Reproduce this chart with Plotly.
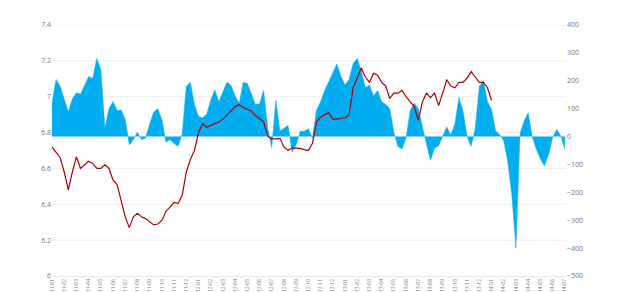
import plotly.graph_objects as go

# price series (left axis)
price = [6.72, 6.69, 6.66, 6.58, 6.48, 6.58, 6.665, 6.60, 6.62, 6.64,
         6.628, 6.60, 6.60, 6.62, 6.60, 6.535, 6.51, 6.42, 6.33, 6.27,
         6.33, 6.35, 6.33, 6.32, 6.30, 6.285, 6.29, 6.31, 6.36, 6.385,
         6.41, 6.405, 6.45, 6.58, 6.65, 6.70, 6.80, 6.85, 6.83, 6.84,
         6.85, 6.86, 6.875, 6.90, 6.92, 6.945, 6.955, 6.94, 6.93, 6.92,
         6.895, 6.875, 6.86, 6.78, 6.765, 6.765, 6.768, 6.72, 6.70, 6.715,
         6.715, 6.712, 6.705, 6.70, 6.74, 6.86, 6.885, 6.90, 6.91, 6.875,
         6.875, 6.88, 6.88, 6.90, 7.05, 7.11, 7.16, 7.11, 7.08, 7.13,
         7.12, 7.08, 7.06, 6.99, 7.02, 7.02, 7.035, 7.0, 6.97, 6.945,
         6.87, 6.97, 7.02, 6.995, 7.02, 6.95, 7.02, 7.095, 7.06, 7.05,
         7.08, 7.08, 7.105, 7.14, 7.11, 7.08, 7.08, 7.05, 6.98]

# spread series (right axis)
spread = [120, 205, 180, 130, 88, 135, 157, 152, 182, 215,
          208, 280, 240, 30, 100, 126, 93, 95, 60, -30,
          -11, 15, -11, -5, 45, 88, 100, 60, -20, -11,
          -25, -35, 10, 180, 195, 115, 72, 67, 80, 130,
          168, 125, 160, 195, 183, 145, 120, 195, 190, 155,
          115, 118, 165, 30, -40, 130, 20, 30, 40, -55,
          -30, 19, 19, 28, -5, 95, 125, 165, 195, 228,
          260, 215, 185, 205, 262, 280, 235, 175, 185, 145,
          165, 125, 115, 100, 15, -35, -45, -5, 92, 120,
          100, 35, -30, -85, -42, -33, 0, 35, 5, 45,
          140, 90, 0, -35, 30, 180, 200, 125, 97, 20,
          7, -15, -90, -210, -400, 10, 55, 85, 0, -45,
          -80, -105, -65, -5, 25, 3, -45]

left_ticks = [6.2, 6.4, 6.6, 6.8, 7.0, 7.2, 7.4]

tick_labels = []
for y in range(11, 15):
    for m in range(1, 13):
        tick_labels.append(f"{y}-{m:02d}")
tick_labels = tick_labels[:43]

x_spread = list(range(len(spread)))
x_price = list(range(len(price)))
tick_pos = [3 * k for k in range(len(tick_labels))]

fig = go.Figure()
# spread on the base axis (drawn on the right side) so the price line sits on top
fig.add_trace(go.Scatter(
    x=x_spread, y=spread, yaxis="y", mode="lines",
    line=dict(color="#00AEEF", width=0.5),
    fill="tozeroy", fillcolor="#00AEEF", showlegend=False,
    hoverinfo="skip"))
fig.add_trace(go.Scatter(
    x=x_price, y=price, yaxis="y2", mode="lines",
    line=dict(color="#B00000", width=1.2), showlegend=False))

# gridlines for the left axis, kept beneath the area
for v in left_ticks:
    fig.add_shape(type="line", xref="paper", x0=0, x1=1, yref="y2", y0=v, y1=v,
                  line=dict(color="#eeeeee", width=1), layer="below")

fig.update_layout(
    width=633, height=292,
    margin=dict(l=52, r=67, t=25, b=16),
    paper_bgcolor="white", plot_bgcolor="white",
    font=dict(family="Open Sans", size=7, color="#777"),
    xaxis=dict(range=[0, 126.3], tickmode="array", tickvals=tick_pos,
               ticktext=tick_labels, tickangle=-90,
               tickfont=dict(size=5, color="#777"),
               showgrid=False, zeroline=False,
               showline=True, linecolor="#e6e6e6", linewidth=1,
               ticks="", automargin=False),
    yaxis=dict(range=[-500, 400], dtick=100, side="right",
               showgrid=False, zeroline=False, ticks="", automargin=False,
               tickfont=dict(size=7, color="#777")),
    yaxis2=dict(range=[6, 7.4], dtick=0.2, tickformat="~g",
                overlaying="y", side="left",
                showgrid=False, zeroline=False, ticks="", automargin=False,
                tickfont=dict(size=7, color="#777")),
)

fig.write_html("out.html")
